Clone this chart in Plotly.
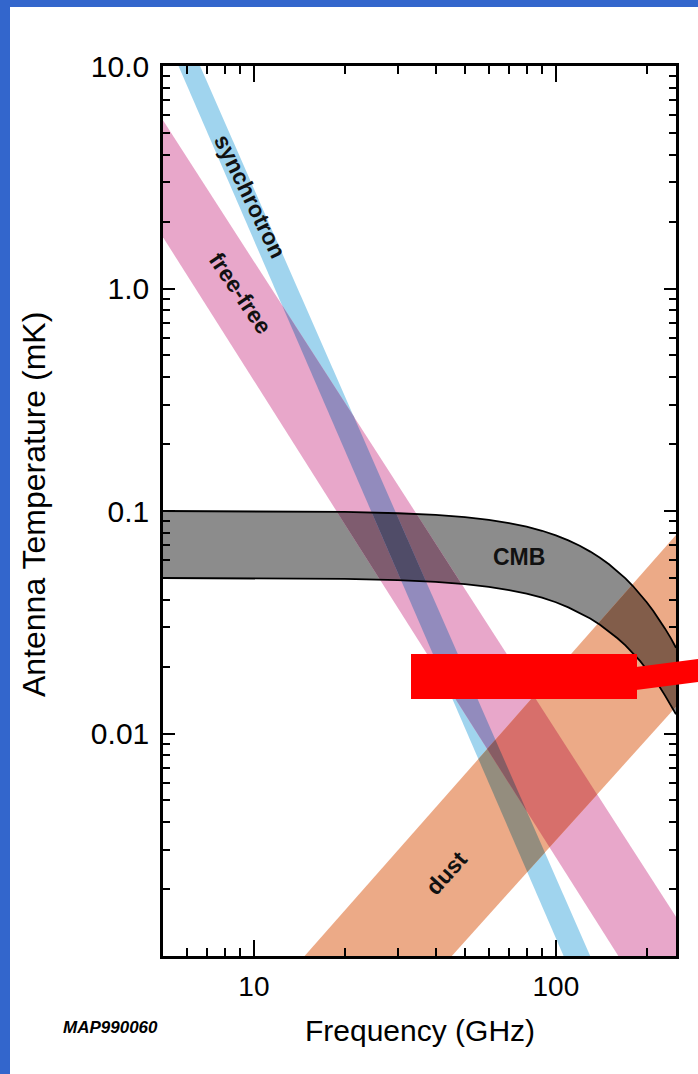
import itertools
import numpy as np
import plotly.graph_objects as go

# ---------------- data ----------------
freq_edges = [5, 250]                      # GHz, plot range ends
sync_upper = [24.0, 1.32e-4]               # mK at freq_edges
sync_lower = [14.5, 6.8e-5]
ff_upper = [5.7, 1.5e-3]
ff_lower = [1.7, 3.9e-4]
dust_upper = [1.9e-4, 0.078]
dust_lower = [3.6e-5, 0.0132]

cmb_freq = [5, 10, 20, 30, 40, 50, 60, 70, 80, 90, 100, 110, 120, 130, 140,
            150, 160, 170, 180, 190, 200, 210, 220, 230, 240, 250]
cmb_upper = [0.100, 0.0997, 0.0990, 0.0977, 0.0960, 0.0938, 0.0912, 0.0883,
             0.0850, 0.0815, 0.0777, 0.0738, 0.0698, 0.0657, 0.0617, 0.0576,
             0.0537, 0.0498, 0.0460, 0.0424, 0.0389, 0.0356, 0.0325, 0.0296,
             0.0269, 0.0243]
cmb_lower = [0.0500, 0.0499, 0.0495, 0.0489, 0.0480, 0.0469, 0.0456, 0.0441,
             0.0425, 0.0408, 0.0389, 0.0369, 0.0349, 0.0329, 0.0308, 0.0288,
             0.0268, 0.0249, 0.0230, 0.0212, 0.0194, 0.0178, 0.0163, 0.0148,
             0.0134, 0.0122]

x_tick_vals = [10, 100]
x_tick_text = ["10", "100"]
x_minor_vals = [6, 7, 8, 9, 20, 30, 40, 50, 60, 70, 80, 90, 200]
y_tick_vals = [0.01, 0.1, 1, 10]
y_tick_text = ["0.01", "0.1", "1.0", "10.0"]
y_minor_vals = [m * 10.0 ** k for k in range(-3, 1) for m in range(2, 10)]

band_colors = {"cmb": "#8c8c8c", "sync": "#a0d4ee", "ff": "#e8a7ca", "dust": "#ecaa87"}

# ---------------- geometry helpers ----------------
def band_poly(f, lo, hi):
    lf = np.log10(f); llo = np.log10(lo); lhi = np.log10(hi)
    return [(a, b) for a, b in zip(lf, lhi)] + [(a, b) for a, b in zip(lf[::-1], llo[::-1])]


def clip_poly(subject, clipper):
    area = sum(clipper[i][0] * clipper[(i + 1) % len(clipper)][1]
               - clipper[(i + 1) % len(clipper)][0] * clipper[i][1]
               for i in range(len(clipper)))
    if area < 0:
        clipper = clipper[::-1]
    out = list(subject)
    n = len(clipper)
    for i in range(n):
        a = clipper[i]; b = clipper[(i + 1) % n]
        inp = out; out = []
        if not inp:
            break

        def inside(p):
            return (b[0] - a[0]) * (p[1] - a[1]) - (b[1] - a[1]) * (p[0] - a[0]) >= 0

        def inter(p, q):
            dx1, dy1 = q[0] - p[0], q[1] - p[1]
            dx2, dy2 = b[0] - a[0], b[1] - a[1]
            den = dx1 * dy2 - dy1 * dx2
            t = ((a[0] - p[0]) * dy2 - (a[1] - p[1]) * dx2) / den
            return (p[0] + t * dx1, p[1] + t * dy1)

        s = inp[-1]
        for e in inp:
            if inside(e):
                if not inside(s):
                    out.append(inter(s, e))
                out.append(e)
            elif inside(s):
                out.append(inter(s, e))
            s = e
    return out


def hex_rgb(h):
    h = h.lstrip("#")
    return [int(h[i:i + 2], 16) / 255 for i in (0, 2, 4)]


def multiply(names):
    c = np.array([1.0, 1.0, 1.0])
    for n in names:
        c *= np.array(hex_rgb(band_colors[n]))
    c = (c * 255).round().astype(int)
    return f"rgb({c[0]},{c[1]},{c[2]})"


polys = {
    "cmb": band_poly(cmb_freq, cmb_lower, cmb_upper),
    "sync": band_poly(freq_edges, sync_lower, sync_upper),
    "ff": band_poly(freq_edges, ff_lower, ff_upper),
    "dust": band_poly(freq_edges, dust_lower, dust_upper),
}

fig = go.Figure()


def add_poly(pts, color):
    if len(pts) < 3:
        return
    xs = [10 ** p[0] for p in pts] + [10 ** pts[0][0]]
    ys = [10 ** p[1] for p in pts] + [10 ** pts[0][1]]
    fig.add_trace(go.Scatter(x=xs, y=ys, mode="lines", fill="toself",
                             fillcolor=color, line=dict(width=0, color=color),
                             hoverinfo="skip", showlegend=False))


order = ["cmb", "sync", "ff", "dust"]
for n in order:
    add_poly(polys[n], band_colors[n])
for k in range(2, 5):
    for combo in itertools.combinations(order, k):
        region = polys[combo[0]]
        for other in combo[1:]:
            region = clip_poly(region, polys[other])
        add_poly(region, multiply(combo))

for edge in (cmb_upper, cmb_lower):
    fig.add_trace(go.Scatter(x=cmb_freq, y=edge, mode="lines",
                             line=dict(color="black", width=1.8),
                             hoverinfo="skip", showlegend=False))

# ---------------- layout ----------------
W, H = 698, 1074
L, R, T, B = 163, 22, 66, 118
PW, PH = W - L - R, H - T - B


def xp(px):
    return (px - L) / PW


def yp(py):
    return 1 - (py - T) / PH


FONT = "Liberation Sans, Arial, Helvetica, sans-serif"

label_font = dict(family=FONT, size=23, color="#111111", weight="bold")
annotations = [
    dict(x=np.log10(9.7), y=np.log10(2.6), xref="x", yref="y", text="synchrotron",
         textangle=64, showarrow=False, font=label_font),
    dict(x=np.log10(9.0), y=np.log10(0.95), xref="x", yref="y", text="free-free",
         textangle=56, showarrow=False, font=label_font),
    dict(x=np.log10(75.6), y=np.log10(0.062), xref="x", yref="y", text="CMB",
         textangle=0, showarrow=False, font=label_font),
    dict(x=np.log10(43.4), y=np.log10(0.00236), xref="x", yref="y", text="dust",
         textangle=-48, showarrow=False, font=label_font),
    dict(x=0.5, y=yp(1030), xref="paper", yref="paper", text="Frequency (GHz)",
         xanchor="center", yanchor="middle", showarrow=False,
         font=dict(family=FONT, size=30, color="black")),
    dict(x=xp(34), y=yp(505), xref="paper", yref="paper",
         text="Antenna Temperature (mK)", textangle=-90, showarrow=False,
         xanchor="center", yanchor="middle",
         font=dict(family=FONT, size=32, color="black")),
    dict(x=xp(110), y=yp(1027), xref="paper", yref="paper", text="MAP990060",
         xanchor="center", yanchor="middle", showarrow=False,
         font=dict(family=FONT, size=17, color="black", weight="bold", style="italic")),
]

blue = "#3366cc"
shapes = [
    dict(type="rect", xref="paper", yref="paper", x0=xp(0), x1=xp(10), y0=yp(H), y1=yp(0),
         fillcolor=blue, line=dict(width=0), layer="below"),
    dict(type="rect", xref="paper", yref="paper", x0=xp(0), x1=xp(W), y0=yp(7), y1=yp(0),
         fillcolor=blue, line=dict(width=0), layer="below"),
    dict(type="rect", xref="paper", yref="paper", x0=xp(411), x1=xp(637), y0=yp(699), y1=yp(654),
         fillcolor="#ff0000", line=dict(width=0), layer="above"),
    dict(type="path", xref="paper", yref="paper",
         path=f"M {xp(636)} {yp(667)} L {xp(698)} {yp(659)} L {xp(698)} {yp(682)} L {xp(636)} {yp(690)} Z",
         fillcolor="#ff0000", line=dict(width=0), layer="above"),
]

axis_common = dict(showline=True, linewidth=2.5, linecolor="black", mirror="allticks",
                   ticks="inside", tickwidth=2, tickcolor="black", showgrid=False,
                   zeroline=False)

fig.update_layout(
    width=W, height=H,
    margin=dict(l=L, r=R, t=T, b=B),
    paper_bgcolor="white", plot_bgcolor="white",
    showlegend=False,
    xaxis=dict(type="log", range=[np.log10(freq_edges[0]), np.log10(freq_edges[1])],
               tickmode="array", tickvals=x_tick_vals, ticktext=x_tick_text, ticklen=16,
               tickfont=dict(family=FONT, size=28, color="black"), ticklabelstandoff=4,
               minor=dict(tickmode="array", tickvals=x_minor_vals, ticks="inside",
                          ticklen=8, tickwidth=2, tickcolor="black", showgrid=False),
               **axis_common),
    yaxis=dict(type="log", range=[-3, 1],
               tickmode="array", tickvals=y_tick_vals, ticktext=y_tick_text, ticklen=12,
               tickfont=dict(family=FONT, size=30, color="black"), ticklabelstandoff=5,
               minor=dict(tickmode="array", tickvals=y_minor_vals, ticks="inside",
                          ticklen=7, tickwidth=2, tickcolor="black", showgrid=False),
               **axis_common),
    annotations=annotations,
    shapes=shapes,
)

fig.write_html("out.html", config={"displayModeBar": False},
               post_script="document.body.style.margin='0';")
